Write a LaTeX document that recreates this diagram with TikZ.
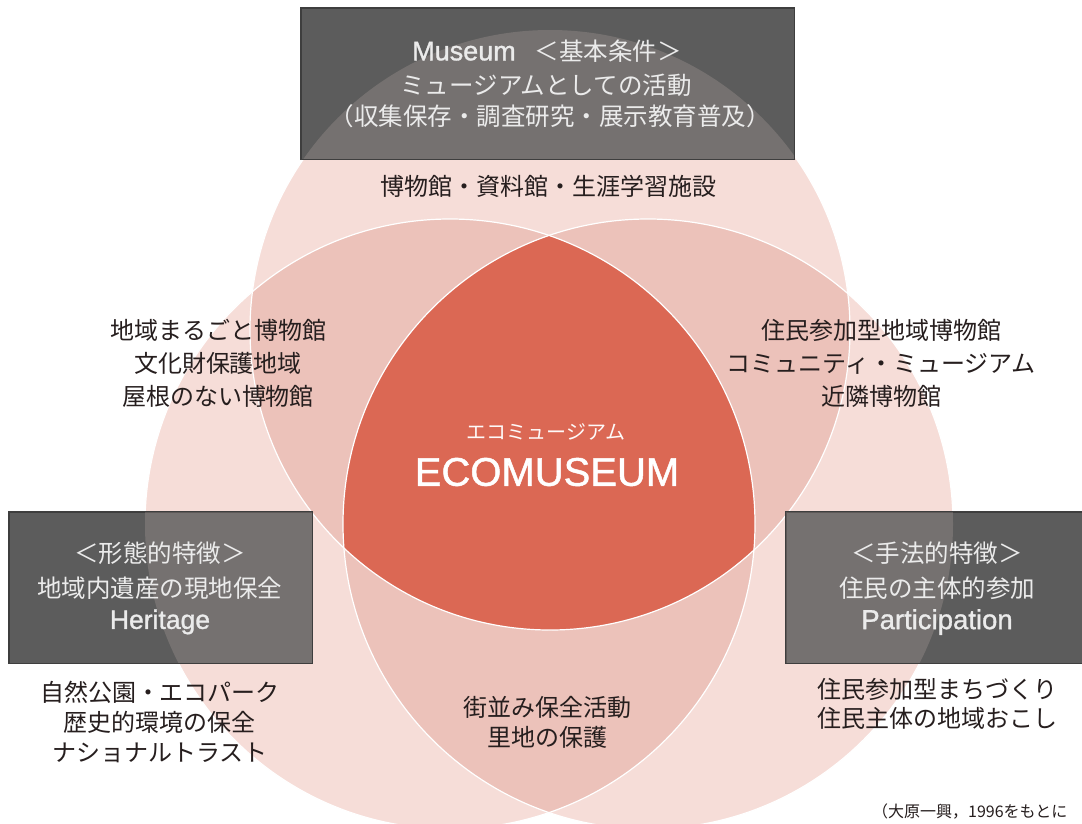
\documentclass[tikz,border=0pt]{standalone}
\usepackage{fontspec}
\newfontfamily\jp{Noto Sans CJK JP}
\newfontfamily\hv[FakeBold=1.2]{Liberation Sans}
\definecolor{pkone}{RGB}{246,221,216}
\definecolor{pktwo}{RGB}{236,194,186}
\definecolor{ecored}{RGB}{219,104,84}
\definecolor{boxgray}{RGB}{92,92,92}
\definecolor{boxedge}{RGB}{62,62,62}
\definecolor{inktext}{RGB}{38,30,30}
\begin{document}
\begin{tikzpicture}[x=1pt,y=-1pt,
  jtext/.style={font=\jp\fontsize{24}{33}\selectfont, align=center, inner sep=0pt, text=inktext},
  btext/.style={font=\jp\fontsize{24.5}{34}\selectfont, align=center, inner sep=0pt, text=white!92!black},
  gbox/.style={fill=boxgray, draw=boxedge, line width=1pt, inner sep=0pt},
  ring/.style={draw=white, line width=1.2pt}]
\clip (0,0) rectangle (1082,823);
\fill[white] (0,0) rectangle (1082,823);
\coordinate (cT) at (550,330);
\coordinate (cL) at (450,524);
\coordinate (cR) at (648,524);
% single circles
\fill[pkone] (cT) circle[radius=300pt];
\fill[pkone] (cL) circle[radius=305pt];
\fill[pkone] (cR) circle[radius=305pt];
% double overlaps
\begin{scope}
  \clip (cT) circle[radius=300pt];
  \fill[pktwo] (cL) circle[radius=305pt];
  \fill[pktwo] (cR) circle[radius=305pt];
\end{scope}
\begin{scope}
  \clip (cL) circle[radius=305pt];
  \fill[pktwo] (cR) circle[radius=305pt];
\end{scope}
% triple overlap
\begin{scope}
  \clip (cT) circle[radius=300pt];
  \clip (cL) circle[radius=305pt];
  \fill[ecored] (cR) circle[radius=305pt];
\end{scope}
% white outlines
\draw[ring] (cT) circle[radius=300pt];
\draw[ring] (cL) circle[radius=305pt];
\draw[ring] (cR) circle[radius=305pt];
% boxes
\node[gbox, minimum width=493pt, minimum height=151pt] (museum) at (547.5,83.5) {};
\node[gbox, minimum width=303pt, minimum height=151pt] (heritage) at (160.5,587.5) {};
\node[gbox, minimum width=304pt, minimum height=151pt] (particip) at (938,587.5) {};
\begin{scope}
  \clip (museum.north west) rectangle (museum.south east)
        (heritage.north west) rectangle (heritage.south east)
        (particip.north west) rectangle (particip.south east);
  \fill[pkone, opacity=.17] (cT) circle[radius=300pt] (cL) circle[radius=305pt] (cR) circle[radius=305pt];
\end{scope}
\draw[boxedge, line width=1pt] (museum.north west) rectangle (museum.south east);
\draw[boxedge, line width=1pt] (heritage.north west) rectangle (heritage.south east);
\draw[boxedge, line width=1pt] (particip.north west) rectangle (particip.south east);
% box texts
\node[btext] (mus1) at (547,51) {{\hv\fontsize{27}{27}\selectfont Museum}\hspace{19pt}＜基本条件＞};
\node[btext] (mus2) at (546,85) {ミュージアムとしての活動};
\node[btext] (mus3) at (550,116) {（収集保存・調査研究・展示教育普及）};
\node[btext] (her1) at (160,553) {＜形態的特徴＞};
\node[btext] (her2) at (160,588) {地域内遺産の現地保全};
\node[btext, font=\hv\fontsize{26.5}{30}\selectfont] (her3) at (160,622) {Heritage};
\node[btext] (par1) at (937,553) {＜手法的特徴＞};
\node[btext] (par2) at (937,588) {住民の主体的参加};
\node[btext, font=\hv\fontsize{27.5}{30}\selectfont] (par3) at (937,622) {Participation};
% region texts
\node[jtext] (topreg) at (548,186) {博物館・資料館・生涯学習施設};
\node[jtext] (leftup) at (218,363) {地域まるごと博物館\\文化財保護地域\\屋根のない博物館};
\node[jtext] (rightup) at (881,363) {住民参加型地域博物館\\コミュニティ・ミュージアム\\近隣博物館};
\node[jtext, font=\jp\fontsize{24}{30}\selectfont] (leftlow) at (160,722) {自然公園・エコパーク\\歴史的環境の保全\\ナショナルトラスト};
\node[jtext, font=\jp\fontsize{24}{29}\selectfont] (rightlow) at (937,704) {住民参加型まちづくり\\住民主体の地域おこし};
\node[jtext, font=\jp\fontsize{24}{30}\selectfont] (bottom) at (547,722) {街並み保全活動\\里地の保護};
% centre
\node[inner sep=0pt, text=white!85!pkone, font=\jp\fontsize{20}{22}\selectfont] (ecoj) at (546,432) {エコミュージアム};
\node[inner sep=0pt, text=white, font=\hv\fontsize{40}{44}\selectfont] (ecoe) at (547,472) {ECOMUSEUM};
% source
\node[anchor=west, inner sep=0pt, text=inktext, font=\jp\fontsize{16}{20}\selectfont] (source) at (872,811) {（大原一興，1996をもとに};
\end{tikzpicture}
\end{document}
